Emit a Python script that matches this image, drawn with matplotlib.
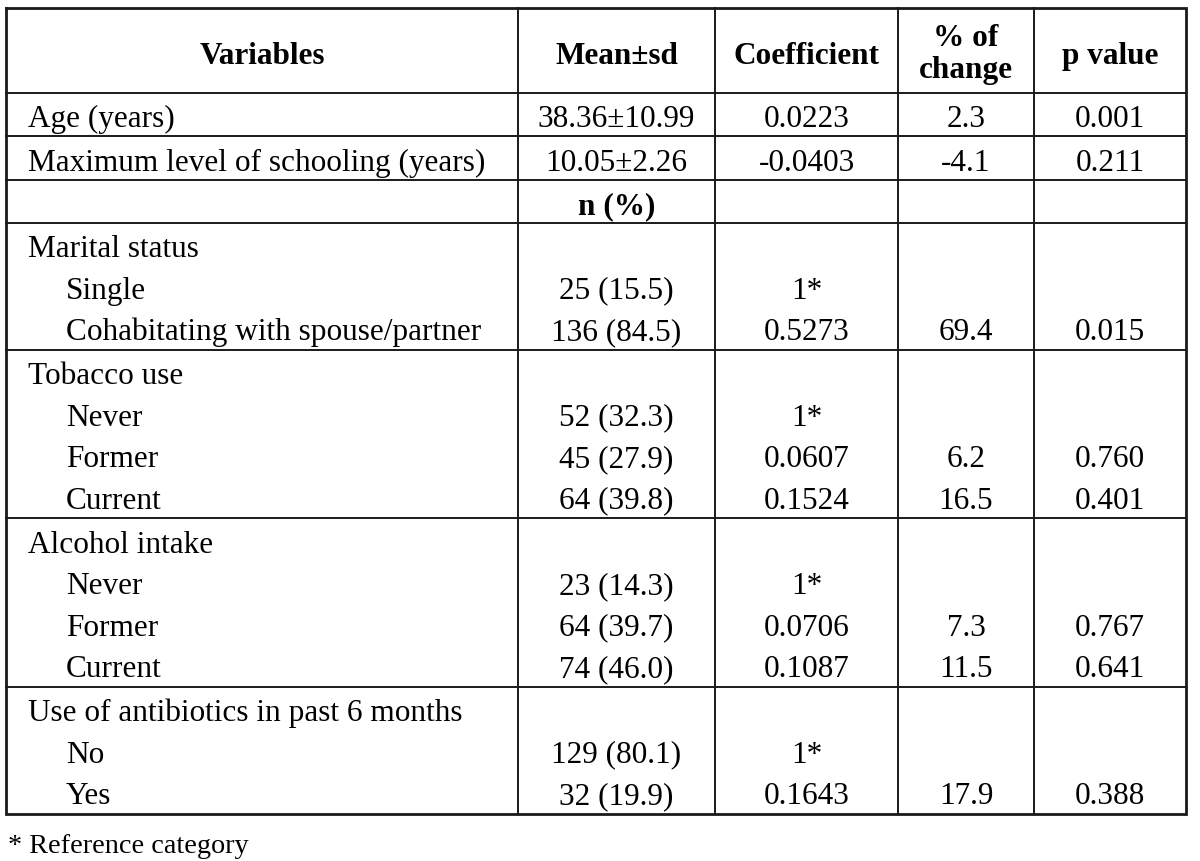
import matplotlib
matplotlib.use("Agg")
import matplotlib.pyplot as plt

# ---------------- data ----------------
header = ["Variables", "Mean\u00b1sd", "Coefficient", "% of\nchange", "p value"]

cont_labels = ["Age (years)", "Maximum level of schooling (years)"]
cont_mean = ["38.36\u00b110.99", "10.05\u00b12.26"]
cont_coef = ["0.0223", "-0.0403"]
cont_pct = ["2.3", "-4.1"]
cont_p = ["0.001", "0.211"]

subheader = "n (%)"

group_titles = ["Marital status", "Tobacco use", "Alcohol intake",
                "Use of antibiotics in past 6 months"]
group_levels = [["Single", "Cohabitating with spouse/partner"],
                ["Never", "Former", "Current"],
                ["Never", "Former", "Current"],
                ["No", "Yes"]]
group_n = [["25 (15.5)", "136 (84.5)"],
           ["52 (32.3)", "45 (27.9)", "64 (39.8)"],
           ["23 (14.3)", "64 (39.7)", "74 (46.0)"],
           ["129 (80.1)", "32 (19.9)"]]
group_coef = [["1*", "0.5273"],
              ["1*", "0.0607", "0.1524"],
              ["1*", "0.0706", "0.1087"],
              ["1*", "0.1643"]]
group_pct = [["", "69.4"],
             ["", "6.2", "16.5"],
             ["", "7.3", "11.5"],
             ["", "17.9"]]
group_p = [["", "0.015"],
           ["", "0.760", "0.401"],
           ["", "0.767", "0.641"],
           ["", "0.388"]]

footnote = "* Reference category"

# ---------------- layout (pixels) ----------------
W, H = 1200, 861
col_x = [6, 518, 715, 898, 1034, 1186]
top = 8
header_h = 85
single_h = 43.3
pitch = 41.5
pad_top = 24
pad_bot = 20
label_x = 28
indent_x = 66
fs = 22.5
fs_note = 20.3
font = "Liberation Serif"
em_px = fs * 100 / 72.0
half_cap = 0.33 * em_px

fig = plt.figure(figsize=(W / 100, H / 100), dpi=100)
ax = fig.add_axes([0, 0, 1, 1])
ax.set_xlim(0, W)
ax.set_ylim(H, 0)
ax.axis("off")

centers = [(col_x[i] + col_x[i + 1]) / 2 for i in range(5)]
lw_in = 1.4
lw_out = 2.0
col = "#1a1a1a"


def hline(y, lw=lw_in):
    ax.plot([col_x[0], col_x[-1]], [y, y], color=col, lw=lw,
            solid_capstyle="projecting")


def txt(x, y, s, ha="center", bold=False):
    # y is the visual centre of the capital letters
    ax.text(x, y + half_cap, s, ha=ha, va="baseline", fontsize=fs,
            family=font, fontweight="bold" if bold else "normal",
            color="black")


# header
y = top
hy = y + header_h / 2
for i, h in enumerate(header):
    if "\n" in h:
        ax.text(centers[i], hy + 4, h, ha="center", va="center", fontsize=fs,
                family=font, fontweight="bold", color="black",
                linespacing=1.12)
    else:
        txt(centers[i], hy + 3, h, bold=True)
y += header_h
hline(y)

# continuous rows
for i in range(len(cont_labels)):
    cy = y + single_h / 2 + 2.5
    txt(label_x, cy, cont_labels[i], ha="left")
    txt(centers[1], cy, cont_mean[i])
    txt(centers[2], cy, cont_coef[i])
    txt(centers[3], cy, cont_pct[i])
    txt(centers[4], cy, cont_p[i])
    y += single_h
    hline(y)

# subheader row
cy = y + single_h / 2 + 2.5
txt(centers[1], cy, subheader, bold=True)
y += single_h
hline(y)

# groups
for g in range(len(group_titles)):
    n = len(group_levels[g]) + 1
    block_h = pad_top + (n - 1) * pitch + pad_bot
    ly = y + pad_top
    txt(label_x, ly, group_titles[g], ha="left")
    for k in range(len(group_levels[g])):
        ly += pitch
        txt(indent_x, ly, group_levels[g][k], ha="left")
        txt(centers[1], ly, group_n[g][k])
        txt(centers[2], ly, group_coef[g][k])
        txt(centers[3], ly, group_pct[g][k])
        txt(centers[4], ly, group_p[g][k])
    y += block_h
    if g < len(group_titles) - 1:
        hline(y)

bottom = y
# outer border
ax.plot([col_x[0], col_x[-1], col_x[-1], col_x[0], col_x[0]],
        [top, top, bottom, bottom, top], color=col, lw=lw_out,
        solid_joinstyle="miter")
# column separators
for x in col_x[1:-1]:
    ax.plot([x, x], [top, bottom], color=col, lw=lw_in)

# footnote
ax.text(8, bottom + 30 + 0.33 * fs_note * 100 / 72.0, footnote, ha="left",
        va="baseline", fontsize=fs_note, family=font, color="black")

fig.savefig("out.png", dpi=100, facecolor="white")
